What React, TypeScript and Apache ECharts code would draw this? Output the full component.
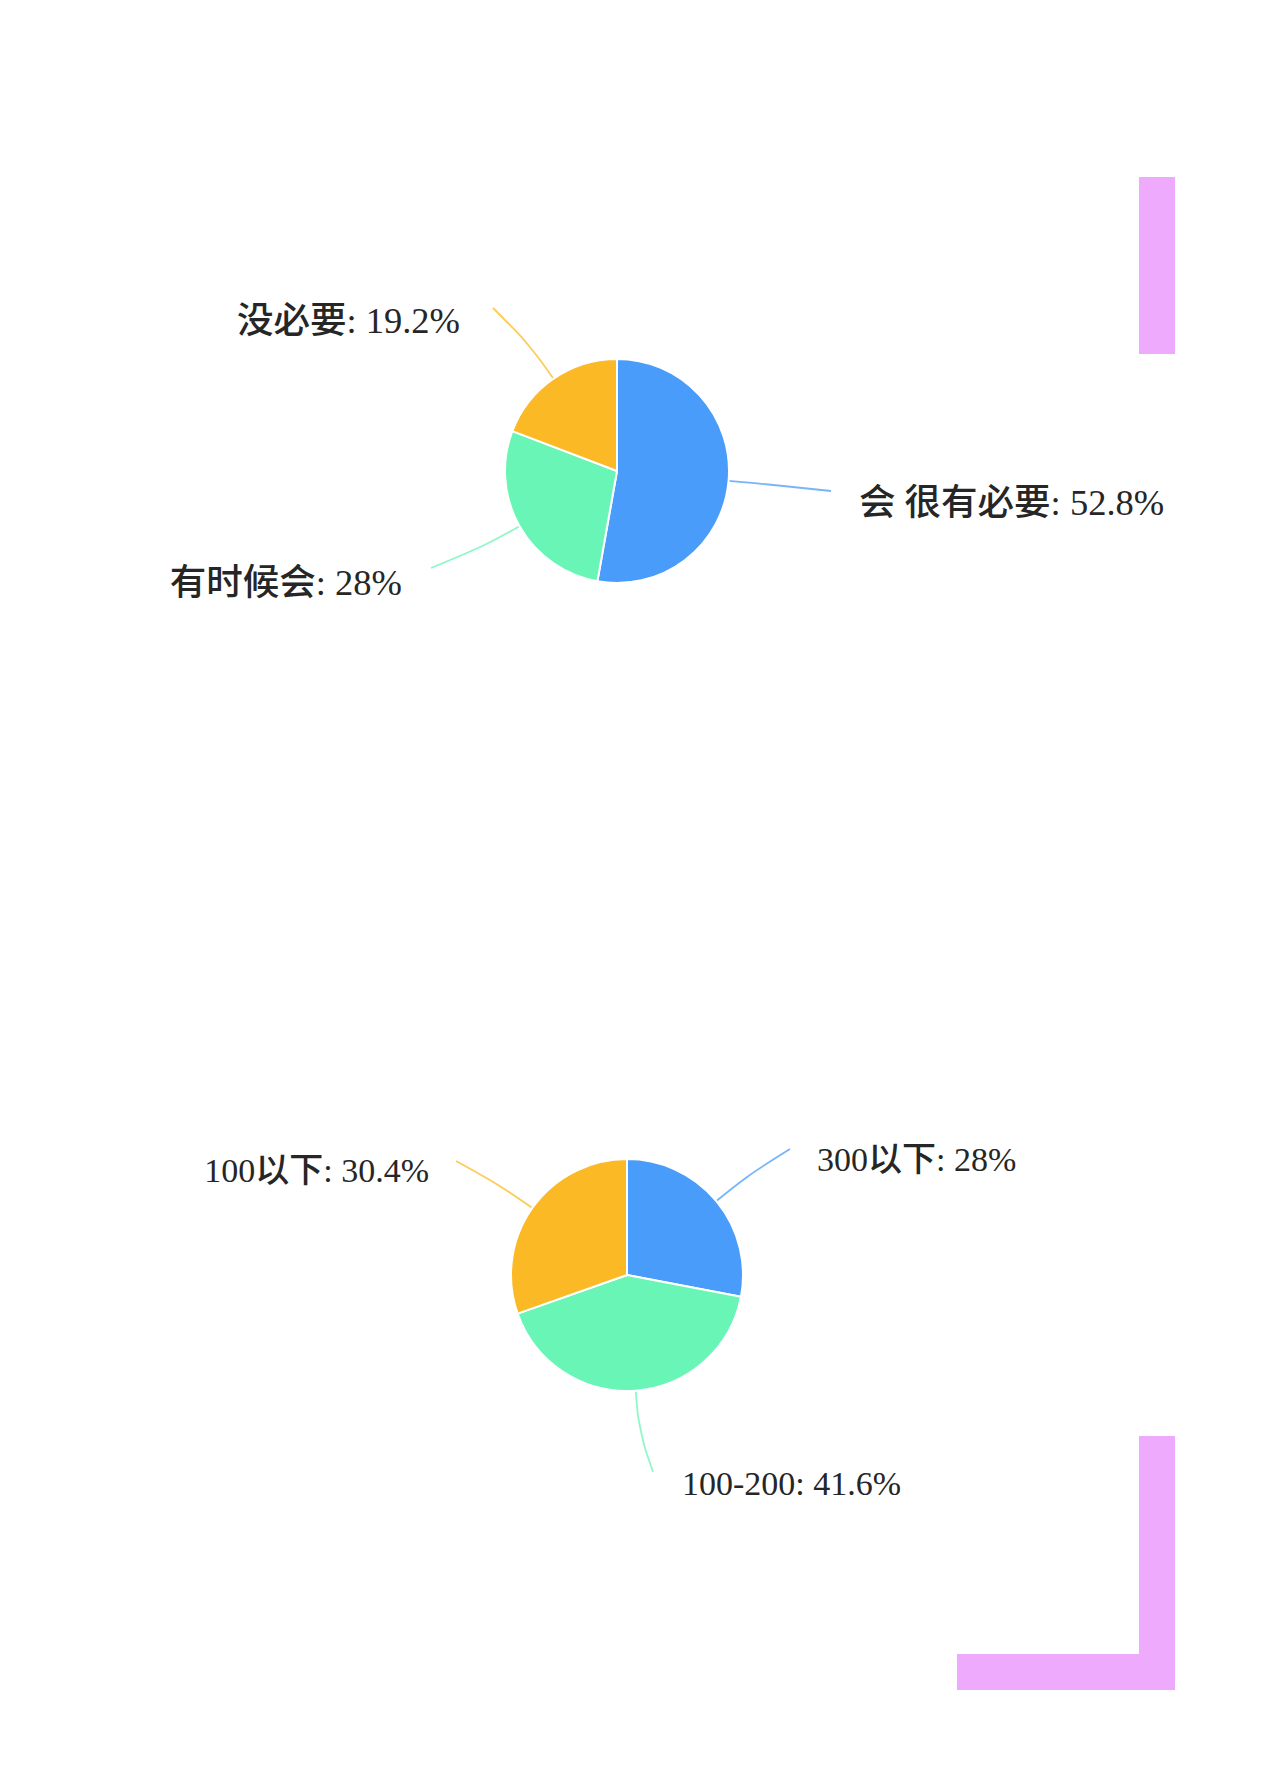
import { useEffect, useRef } from 'react';
import * as echarts from 'echarts';

// 是否有必要
const needNames = ['会 很有必要', '有时候会', '没必要'];
const needValues = [52.8, 28, 19.2];

// 花费
const costNames = ['300以下', '100-200', '100以下'];
const costValues = [28, 41.6, 30.4];

const sliceColors = ['#4a9cfa', '#68f5b6', '#fcb926'];

// where each label sits: [x, y, align], and the end of its guide line
const labelSpots: any[][] = [
    [
        { x: 859, y: 502, align: 'left', end: [831, 491] },
        { x: 402, y: 582, align: 'right', end: [431, 568] },
        { x: 460, y: 320, align: 'right', end: [493, 308] },
    ],
    [
        { x: 817, y: 1159, align: 'left', end: [790, 1149] },
        { x: 682, y: 1483, align: 'left', end: [653, 1472] },
        { x: 429, y: 1170, align: 'right', end: [456, 1161] },
    ],
];

const toData = (names: string[], values: number[]) =>
    names.map((name, i) => ({ name, value: values[i], itemStyle: { color: sliceColors[i] } }));

export default function App() {
    const chartRef = useRef<HTMLDivElement>(null);

    useEffect(() => {
        document.body.style.margin = '0';
        const myChart = echarts.init(chartRef.current, null, { renderer: 'svg' });

        const pieBase = {
            type: 'pie',
            animation: false,
            itemStyle: { borderColor: '#fff', borderWidth: 2 },
            labelLine: { show: true, length: 40, length2: 30, smooth: 0.4, lineStyle: { width: 1.8, opacity: 0.75 } },
            emphasis: { disabled: true },
            labelLayout: (params: any) => {
                const spot = labelSpots[params.seriesIndex][params.dataIndex];
                const pts = params.labelLinePoints;
                return {
                    x: spot.x,
                    y: spot.y,
                    align: spot.align,
                    verticalAlign: 'middle',
                    labelLinePoints: pts ? [pts[0], pts[1], spot.end] : undefined,
                };
            },
        };

        const labelFont = {
            formatter: '{b}: {c}%',
            color: '#262626',
            fontWeight: 500,
            fontFamily: '"Liberation Serif", "Noto Sans CJK SC", serif',
        };

        myChart.setOption({
            animation: false,
            backgroundColor: '#fff',
            series: [
                {
                    ...pieBase,
                    center: [617, 471],
                    radius: 112,
                    label: { ...labelFont, fontSize: 36.5 },
                    data: toData(needNames, needValues),
                },
                {
                    ...pieBase,
                    center: [627, 1275],
                    radius: 116,
                    label: { ...labelFont, fontSize: 34 },
                    data: toData(costNames, costValues),
                },
            ],
            graphic: [
                { type: 'rect', shape: { x: 1139, y: 177, width: 36, height: 177 }, style: { fill: '#eeaafc' } },
                { type: 'rect', shape: { x: 1139, y: 1436, width: 36, height: 254 }, style: { fill: '#eeaafc' } },
                { type: 'rect', shape: { x: 957, y: 1654, width: 218, height: 36 }, style: { fill: '#eeaafc' } },
            ],
        });

        return () => {
            myChart.dispose();
        };
    }, []);

    return <div ref={chartRef} style={{ width: '1276px', height: '1789px' }} />;
}
